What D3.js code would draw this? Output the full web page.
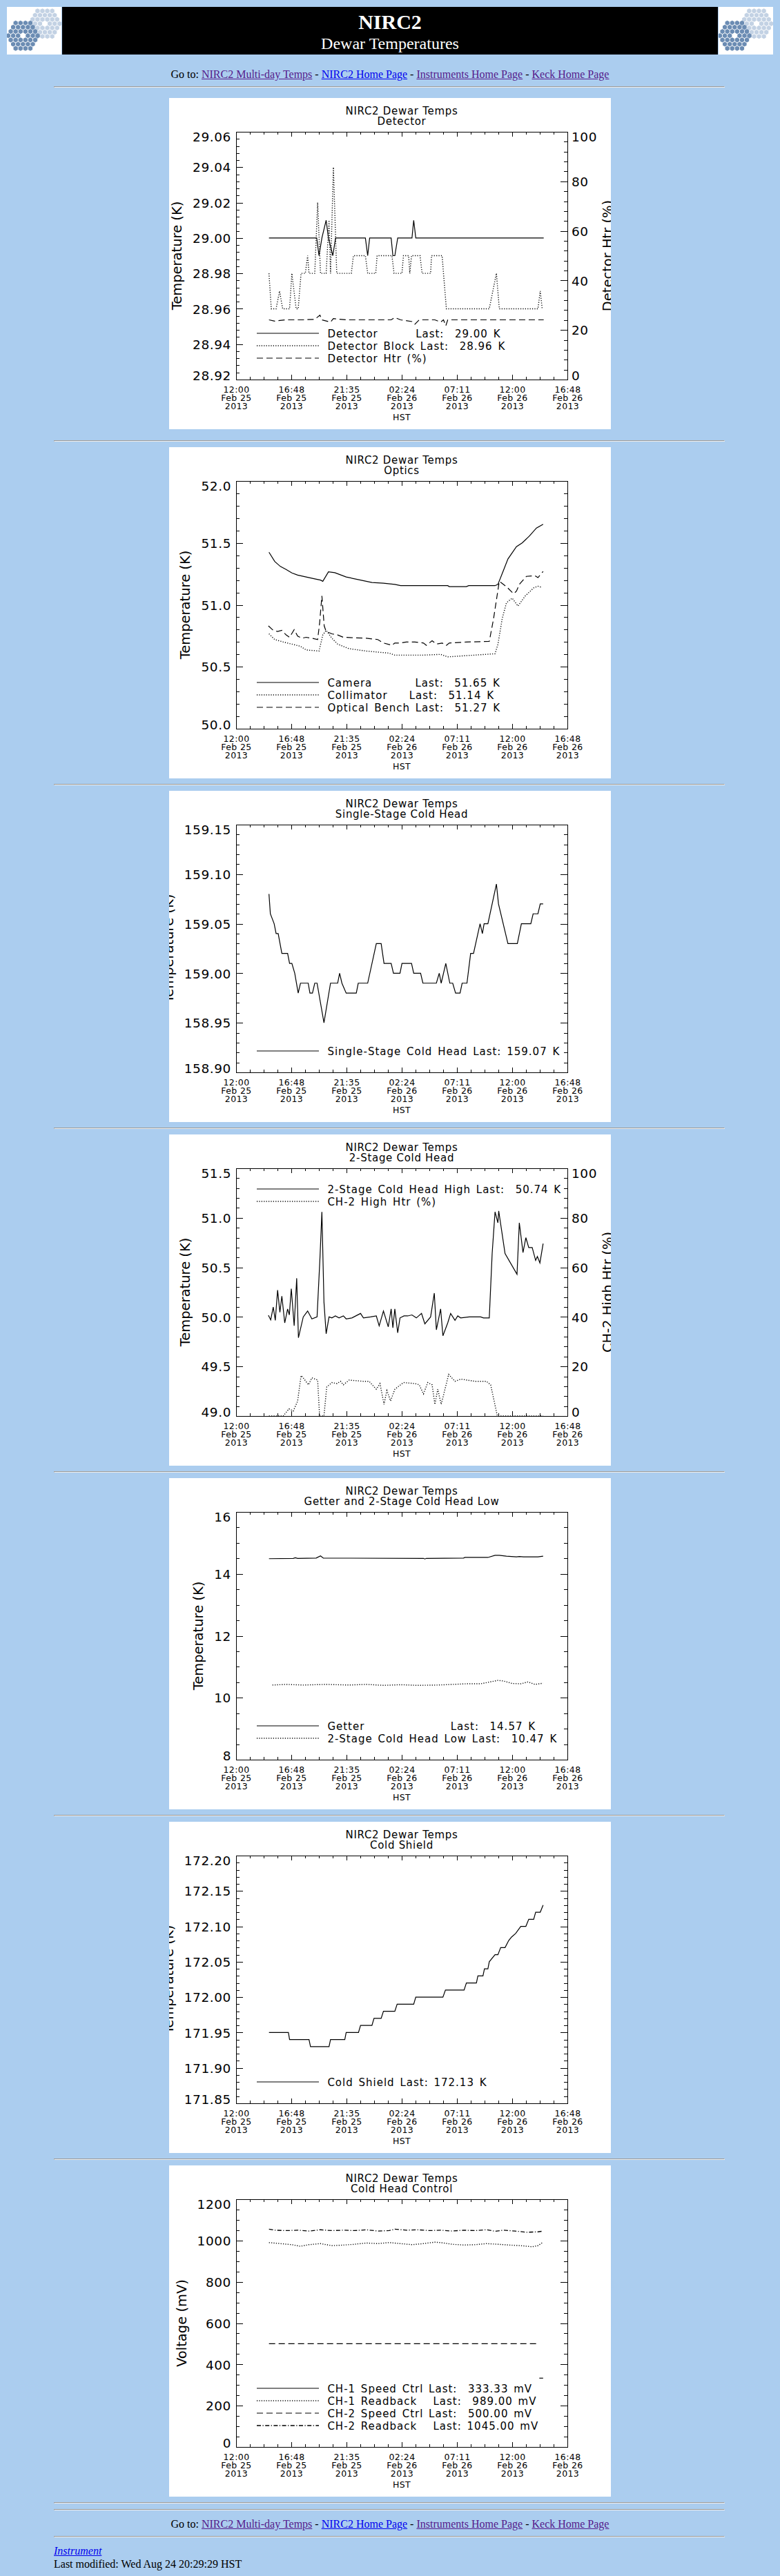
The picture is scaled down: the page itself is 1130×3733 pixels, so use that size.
<!DOCTYPE html>
<html>
<head>
<meta charset="utf-8">
<title>NIRC2 Dewar Temperatures</title>
<script src="https://cdn.jsdelivr.net/npm/d3@7"></script>
<style>
  body { margin: 0; background: #abcdef; width: 1130px; height: 3733px; position: relative; overflow: hidden;
         font-family: "Liberation Serif", "Times New Roman", serif; font-size: 16px; color: #000; }
  .abs { position: absolute; }
  hr.abs { margin: 0; width: 970px; left: 78px; }
  .nav { left: 0; width: 1130px; text-align: center; line-height: 18px; white-space: nowrap; }
  a { text-decoration: underline; }
  a.seen { color: #551a8b; }
  a.fresh { color: #0000ee; }
  .chart text { font-family: "DejaVu Sans", sans-serif; font-weight: normal; fill: #000; }
  .chart .ttl { font-size: 15px; letter-spacing: 0.7px; }
  .chart .ytl { font-size: 18.5px; letter-spacing: 0.6px; }
  .chart .xtl { font-size: 12.5px; letter-spacing: 0.4px; }
  .chart .atl { font-size: 19.5px; }
  .chart .leg { font-size: 15px; letter-spacing: 1px; word-spacing: 2px; white-space: pre; }
</style>
</head>
<body>
<script>
// ---- time axis (hours after 12:00 Feb 25 2013, HST) ----
const xTickHours = [0, 4.8, 9.6, 14.4, 19.2, 24, 28.8];
const xTickTimes = ["12:00", "16:48", "21:35", "02:24", "07:11", "12:00", "16:48"];
const xTickDates = ["Feb 25", "Feb 25", "Feb 25", "Feb 26", "Feb 26", "Feb 26", "Feb 26"];
const xTickYears = ["2013", "2013", "2013", "2013", "2013", "2013", "2013"];

// ---- Detector ----
const detTicks = [28.92, 28.94, 28.96, 28.98, 29.00, 29.02, 29.04, 29.06];
const htrTicks = [0, 20, 40, 60, 80, 100];
const detector = [[2.86,29.00],[7.01,29.00],[7.21,28.99],[7.46,29.00],[7.83,29.01],[8.03,29.00],[8.41,28.99],[8.65,29.00],
  [11.24,29.00],[11.44,28.99],[11.61,29.00],[13.48,29.00],[13.63,28.99],[13.80,28.99],[14.05,29.00],[15.29,29.00],
  [15.44,29.01],[15.62,29.00],[26.74,29.00]];
const detBlock = [[2.86,28.98],[3.06,28.96],[3.48,28.96],[3.78,28.97],[4.05,28.96],[4.65,28.96],[4.85,28.98],[5.22,28.96],
  [5.40,28.96],[5.65,28.98],[6.02,28.98],[6.22,28.99],[6.34,28.98],[6.84,28.98],[7.09,29.02],[7.34,28.98],[7.83,28.98],
  [8.08,29.01],[8.21,28.98],[8.46,29.04],[8.75,28.98],[10.02,28.98],[10.20,28.99],[11.24,28.99],[11.44,28.98],[12.14,28.98],
  [12.26,28.99],[13.55,28.99],[13.73,28.98],[14.42,28.98],[14.55,28.99],[15.00,28.99],[15.10,28.98],[15.25,28.99],
  [15.99,28.99],[16.17,28.98],[16.91,28.98],[16.99,28.99],[17.91,28.99],[18.03,28.98],[18.28,28.96],[22.01,28.96],
  [22.63,28.98],[22.88,28.96],[26.24,28.96],[26.44,28.97],[26.61,28.96]];
const detHtr = [[2.86,24.1],[3.36,23.6],[4.35,24.1],[5.84,24.1],[6.84,24.3],[7.29,26.0],[7.46,24.1],[8.21,23.2],[8.46,24.6],
  [9.57,24.1],[13.48,24.1],[13.80,25.0],[14.30,24.1],[15.29,23.4],[15.54,22.3],[15.92,24.1],[17.28,24.1],[17.78,23.2],
  [18.03,24.1],[18.23,21.7],[18.40,24.1],[26.74,24.1]];
const detLegend = ["Detector       Last:  29.00 K", "Detector Block Last:  28.96 K", "Detector Htr (%)"];

// ---- Optics ----
const optTicks = [50.0, 50.5, 51.0, 51.5, 52.0];
const camera = [[2.86,51.425],[3.36,51.35],[3.85,51.31],[4.35,51.286],[4.85,51.258],[5.35,51.24],[6.09,51.225],[6.84,51.21],
  [7.34,51.20],[7.54,51.19],[8.03,51.267],[8.58,51.26],[9.57,51.225],[10.82,51.20],[11.81,51.18],[12.81,51.175],
  [13.80,51.165],[14.30,51.155],[16.29,51.155],[18.40,51.155],[18.53,51.147],[20.02,51.147],[20.22,51.155],[22.51,51.155],
  [22.76,51.165],[23.25,51.28],[23.63,51.37],[24.37,51.47],[24.87,51.50],[25.49,51.555],[26.11,51.62],[26.69,51.65]];
const collimator = [[2.86,50.766],[3.36,50.72],[4.10,50.70],[4.85,50.683],[5.60,50.665],[6.09,50.636],[7.21,50.627],
  [7.54,50.757],[7.83,50.794],[8.33,50.73],[8.83,50.683],[9.82,50.646],[11.32,50.627],[13.31,50.61],[13.80,50.594],
  [16.29,50.594],[17.78,50.60],[18.40,50.58],[20.02,50.59],[22.51,50.605],[22.76,50.68],[23.13,50.887],[23.50,51.017],
  [24.00,51.054],[24.50,50.99],[25.12,51.07],[25.87,51.137],[26.24,51.15],[26.61,51.14]];
const opticalBench = [[2.81,50.83],[3.23,50.794],[3.61,50.785],[3.98,50.794],[4.35,50.757],[4.65,50.738],[5.05,50.80],
  [5.35,50.748],[5.72,50.73],[6.09,50.738],[6.59,50.73],[7.09,50.72],[7.26,50.85],[7.46,51.072],[7.66,50.83],[7.83,50.785],
  [8.33,50.766],[8.83,50.757],[9.33,50.738],[11.32,50.73],[12.31,50.72],[12.81,50.692],[13.55,50.673],[13.80,50.692],
  [14.30,50.692],[14.79,50.70],[15.54,50.70],[16.29,50.692],[16.54,50.673],[17.04,50.71],[17.41,50.683],[17.91,50.692],
  [18.28,50.673],[18.53,50.692],[20.02,50.70],[22.01,50.705],[22.38,50.887],[22.88,51.19],[23.50,51.147],[24.12,51.09],
  [24.37,51.11],[24.62,51.165],[25.24,51.23],[25.99,51.235],[26.24,51.22],[26.69,51.27]];
const optLegend = ["Camera        Last:  51.65 K", "Collimator    Last:  51.14 K", "Optical Bench Last:  51.27 K"];

// ---- Single-stage cold head ----
const ssTicks = [158.90, 158.95, 159.00, 159.05, 159.10, 159.15];
const singleStage = [[2.86,159.08],[2.98,159.06],[3.31,159.05],[3.48,159.04],[3.66,159.04],[3.98,159.02],[4.48,159.02],
  [4.65,159.01],[4.85,159.01],[5.10,159.00],[5.40,158.98],[5.60,158.99],[6.27,158.99],[6.42,158.98],[6.64,158.98],
  [6.84,158.99],[7.04,158.99],[7.64,158.95],[8.21,158.99],[8.83,158.99],[9.00,159.00],[9.20,158.99],[9.57,158.98],
  [10.45,158.98],[10.62,158.99],[11.44,158.99],[12.19,159.03],[12.61,159.03],[12.86,159.01],[13.48,159.01],[13.68,159.00],
  [14.25,159.00],[14.42,159.01],[15.25,159.01],[15.44,159.00],[16.04,159.00],[16.24,158.99],[17.41,158.99],[17.66,159.00],
  [17.83,158.99],[18.23,159.01],[18.58,158.99],[18.83,158.99],[19.08,158.98],[19.47,158.98],[19.65,158.99],[20.07,158.99],
  [20.39,159.02],[20.64,159.02],[21.02,159.04],[21.21,159.05],[21.41,159.04],[21.56,159.05],[21.89,159.05],[22.63,159.09],
  [22.81,159.07],[23.63,159.03],[24.45,159.03],[24.80,159.05],[25.62,159.05],[25.82,159.06],[26.24,159.06],[26.44,159.07],
  [26.69,159.07]];
const ssLegend = ["Single-Stage Cold Head Last: 159.07 K"];

// ---- 2-stage cold head ----
const tsTicks = [49.0, 49.5, 50.0, 50.5, 51.0, 51.5];
const twoStageHigh = [[2.81,50.016],[3.01,49.97],[3.23,50.10],[3.41,49.965],[3.61,50.27],[3.81,50.046],[3.98,50.21],
  [4.23,49.94],[4.48,50.08],[4.63,50.02],[4.80,50.285],[5.05,49.91],[5.27,50.39],[5.42,49.79],[5.84,50.00],[6.22,50.06],
  [6.59,49.98],[7.04,50.00],[7.29,50.59],[7.46,51.06],[7.64,50.15],[7.83,49.83],[8.08,50.00],[8.33,49.99],[8.63,50.01],
  [8.95,49.99],[9.33,50.01],[9.57,49.98],[10.07,49.99],[10.82,50.035],[11.07,49.99],[11.69,50.00],[12.19,50.01],
  [12.44,49.91],[12.81,50.06],[13.23,49.90],[13.48,50.08],[13.63,49.89],[13.80,50.08],[14.05,49.84],[14.25,49.99],
  [14.60,50.01],[14.92,50.01],[15.29,50.02],[15.67,49.99],[16.12,50.035],[16.41,49.93],[16.91,50.00],[17.23,50.24],
  [17.41,49.87],[17.78,50.08],[17.98,49.81],[18.40,49.94],[18.65,50.035],[19.03,49.965],[19.27,50.01],[19.52,49.99],
  [20.27,50.00],[21.26,50.00],[21.51,49.99],[22.01,49.99],[22.26,50.64],[22.51,51.06],[22.76,50.95],[22.83,51.07],
  [23.38,50.64],[24.42,50.43],[24.62,50.95],[24.94,50.65],[25.19,50.80],[25.44,50.70],[25.74,50.70],[26.04,50.57],
  [26.19,50.61],[26.41,50.545],[26.69,50.74]];
const ch2Htr = [[2.86,0],[4.10,0],[4.60,2.9],[4.97,2.0],[5.35,6.0],[5.65,16.3],[5.84,15.4],[6.29,12.6],[6.59,15.4],
  [7.09,14.5],[7.26,0],[7.64,0],[7.88,11.7],[8.33,13.5],[8.78,13.1],[9.08,14.0],[9.33,12.6],[9.82,14.5],[11.07,14.0],
  [11.56,14.0],[12.19,10.8],[12.51,13.1],[12.86,4.7],[13.11,10.3],[13.43,6.1],[13.80,10.8],[14.55,13.5],[15.54,13.1],
  [15.92,12.6],[16.29,8.9],[16.66,13.5],[17.04,12.6],[17.28,4.7],[17.53,10.8],[17.83,4.7],[18.48,16.8],[19.03,14.0],
  [19.52,14.9],[20.77,14.0],[21.76,14.0],[22.13,12.6],[22.71,0],[26.69,0]];
const tsLegend = ["2-Stage Cold Head High Last:  50.74 K", "CH-2 High Htr (%)"];

// ---- Getter and 2-stage low ----
const getTicks = [8, 10, 12, 14, 16];
const getter = [[2.86,14.49],[4.97,14.50],[5.15,14.52],[5.35,14.50],[6.96,14.51],[7.34,14.58],[7.59,14.51],[16.29,14.50],
  [16.41,14.48],[16.54,14.50],[19.77,14.51],[19.90,14.53],[21.89,14.53],[22.51,14.60],[22.88,14.60],[23.50,14.57],
  [24.37,14.55],[24.62,14.56],[24.99,14.55],[26.24,14.55],[26.69,14.57]];
const twoStageLow = [[3.16,10.41],[4.35,10.43],[5.84,10.41],[7.83,10.43],[9.82,10.41],[11.32,10.43],[12.81,10.40],
  [14.30,10.42],[15.79,10.40],[17.53,10.41],[18.78,10.43],[20.02,10.45],[21.26,10.45],[22.76,10.56],[23.25,10.54],
  [24.00,10.46],[24.75,10.45],[25.37,10.51],[25.99,10.43],[26.69,10.47]];
const getLegend = ["Getter                Last:  14.57 K", "2-Stage Cold Head Low Last:  10.47 K"];

// ---- Cold shield ----
const csTicks = [171.85, 171.90, 171.95, 172.00, 172.05, 172.10, 172.15, 172.20];
const coldShield = [[2.86,171.95],[4.55,171.95],[4.65,171.94],[6.34,171.94],[6.47,171.93],[8.08,171.93],[8.21,171.94],
  [9.45,171.94],[9.57,171.95],[10.64,171.95],[10.82,171.96],[11.81,171.96],[11.99,171.97],[12.61,171.97],[12.81,171.98],
  [13.80,171.98],[14.00,171.99],[15.44,171.99],[15.62,172.00],[17.98,172.00],[18.20,172.01],[19.82,172.01],[20.02,172.02],
  [20.89,172.02],[21.02,172.03],[21.46,172.03],[21.59,172.04],[21.89,172.04],[22.01,172.05],[22.51,172.06],[22.76,172.06],
  [23.00,172.07],[23.38,172.07],[23.70,172.08],[23.95,172.085],[24.30,172.09],[24.75,172.10],[25.19,172.10],
  [25.44,172.11],[25.87,172.11],[26.04,172.12],[26.44,172.12],[26.69,172.13]];
const csLegend = ["Cold Shield Last: 172.13 K"];

// ---- Cold head control ----
const mvTicks = [0, 200, 400, 600, 800, 1000, 1200];
const ch1Speed = [[26.36,333.33],[26.69,333.33]];
const ch1Read = [[2.86,990],[3.85,985],[4.85,980],[5.60,972],[6.34,980],[7.34,985],[8.33,975],[9.33,978],[10.32,982],
  [11.32,988],[12.31,985],[13.31,990],[14.30,985],[15.29,980],[16.29,985],[17.28,992],[17.78,990],[18.78,982],[19.77,978],
  [20.77,980],[21.76,985],[22.76,982],[23.75,978],[24.75,975],[25.74,970],[26.24,975],[26.61,989]];
const ch2Speed = [[2.86,500],[26.36,500]];
const ch2Read = [[2.86,1055],[3.36,1050],[4.35,1048],[5.35,1050],[6.34,1046],[7.34,1052],[8.33,1048],[9.33,1050],
  [10.32,1048],[11.32,1052],[12.31,1046],[13.31,1048],[13.80,1055],[14.79,1050],[15.79,1052],[16.79,1048],[17.78,1050],
  [18.78,1046],[19.77,1050],[20.77,1048],[21.76,1052],[22.51,1045],[23.25,1050],[24.25,1046],[25.24,1040],[26.24,1042],
  [26.61,1045]];
const mvLegend = ["CH-1 Speed Ctrl Last:  333.33 mV", "CH-1 Readback   Last:  989.00 mV",
                  "CH-2 Speed Ctrl Last:  500.00 mV", "CH-2 Readback   Last: 1045.00 mV"];

// ---- page text ----
const navLinks = ["NIRC2 Multi-day Temps", "NIRC2 Home Page", "Instruments Home Page", "Keck Home Page"];
const navSeen = [true, false, true, true];

const charts = [
  { sub: "Detector", ticks: detTicks, minor: 0.004, fmt: ".2f", title: "Temperature (K)",
    right: { ticks: htrTicks, minor: 4, title: "Detector Htr (%)" },
    series: [[detector, "solid"], [detBlock, "dot"], [detHtr, "dash", true]], legend: detLegend },
  { sub: "Optics", ticks: optTicks, minor: 0.1, fmt: ".1f", title: "Temperature (K)",
    series: [[camera, "solid"], [collimator, "dot"], [opticalBench, "dash"]], legend: optLegend },
  { sub: "Single-Stage Cold Head", ticks: ssTicks, minor: 0.01, fmt: ".2f", title: "Temperature (K)",
    series: [[singleStage, "solid"]], legend: ssLegend },
  { sub: "2-Stage Cold Head", ticks: tsTicks, minor: 0.1, fmt: ".1f", title: "Temperature (K)",
    right: { ticks: htrTicks, minor: 4, title: "CH-2 High Htr (%)" },
    series: [[twoStageHigh, "solid"], [ch2Htr, "dot", true]], legend: tsLegend, legendTop: true },
  { sub: "Getter and 2-Stage Cold Head Low", ticks: getTicks, minor: 0.5, fmt: "d", title: "Temperature (K)",
    series: [[getter, "solid"], [twoStageLow, "dot"]], legend: getLegend },
  { sub: "Cold Shield", ticks: csTicks, minor: 0.01, fmt: ".2f", title: "Temperature (K)",
    series: [[coldShield, "solid"]], legend: csLegend },
  { sub: "Cold Head Control", ticks: mvTicks, minor: 50, fmt: "d", title: "Voltage (mV)",
    series: [[ch1Speed, "solid"], [ch1Read, "dot"], [ch2Speed, "dash"], [ch2Read, "dashdot"]], legend: mvLegend }
];

const dashes = { solid: null, dot: "1.2,2.2", dash: "9,5", dashdot: "6,2.5,1.2,2.5" };
const widths = { solid: 1.2, dot: 1.4, dash: 1.2, dashdot: 1.3 };

const page = d3.select("body");

// keck logo: two hexagonal mirrors of 36 segments
function drawLogo(svg) {
  svg.append("rect").attr("width", 79).attr("height", 69).attr("fill", "#fff");
  const size = 4.1, hexR = 3.6;
  const hex = d3.range(6).map(k => {
    const a = (Math.PI / 180) * (60 * k - 30);
    return [hexR * Math.cos(a), hexR * Math.sin(a)];
  });
  const cells = [];
  for (let q = -3; q <= 3; q++) for (let r = -3; r <= 3; r++) {
    const s = -q - r;
    const ring = Math.max(Math.abs(q), Math.abs(r), Math.abs(s));
    if (ring >= 1 && ring <= 3) cells.push([size * Math.sqrt(3) * (q + r / 2), size * 1.5 * r]);
  }
  [[55, 24.3, "#c3d2e4"], [23.3, 41.7, "#6b8cb3"]].forEach(([cx, cy, col]) => {
    svg.append("g").selectAll("path").data(cells).enter().append("path")
      .attr("d", d => "M" + hex.map(p => [p[0] + cx + d[0], p[1] + cy + d[1]].join(",")).join("L") + "Z")
      .attr("fill", col);
  });
}

// header band
const head = page.append("div").attr("class", "abs").style("left", "10px").style("top", "10px")
  .style("width", "1110px").style("height", "69px");
[0, 1031].forEach(left => {
  drawLogo(head.append("svg").attr("class", "abs").style("left", left + "px").style("top", "0px")
    .attr("width", 79).attr("height", 69));
});
const band = head.append("div").attr("class", "abs").style("left", "80px").style("top", "0px")
  .style("width", "950px").style("height", "69px").style("background", "#000").style("color", "#fff")
  .style("text-align", "center");
band.append("div").attr("class", "abs").style("left", "0px").style("width", "950px").style("top", "5px")
  .style("line-height", "34px").style("font-size", "30px").style("font-weight", "bold").text("NIRC2");
band.append("div").attr("class", "abs").style("left", "0px").style("width", "950px").style("top", "39px")
  .style("line-height", "28px").style("font-size", "24px").text("Dewar Temperatures");

function navLine(top) {
  const d = page.append("div").attr("class", "abs nav").style("top", top + "px");
  d.append("span").text("Go to: ");
  navLinks.forEach((t, i) => {
    if (i > 0) d.append("span").text(" - ");
    d.append("a").attr("href", "#").attr("class", navSeen[i] ? "seen" : "fresh").text(t);
  });
}
function rule(top) { page.append("hr").attr("class", "abs").style("top", top + "px"); }

navLine(99);
rule(125);

function drawChart(c, top) {
  const W = 640, H = 480, L = 97, R = 577, T = 49, B = 408;
  const svg = page.append("svg").attr("class", "abs chart").style("left", "245px").style("top", top + "px")
    .attr("width", W).attr("height", H);
  svg.append("rect").attr("width", W).attr("height", H).attr("fill", "#fff");

  const x = d3.scaleLinear().domain([xTickHours[0], xTickHours[xTickHours.length - 1]]).range([L, R]);
  const y = d3.scaleLinear().domain([c.ticks[0], c.ticks[c.ticks.length - 1]]).range([B, T]);
  const y2 = c.right ? d3.scaleLinear().domain([c.right.ticks[0], c.right.ticks[c.right.ticks.length - 1]]).range([B, T]) : null;

  svg.append("text").attr("class", "ttl").attr("x", (L + R) / 2).attr("y", 24.2).attr("text-anchor", "middle").text("NIRC2 Dewar Temps");
  svg.append("text").attr("class", "ttl").attr("x", (L + R) / 2).attr("y", 39.2).attr("text-anchor", "middle").text(c.sub);

  const minorOf = (dom, step) => d3.range(dom[0], dom[1] + step / 2, step);
  const xMinor = minorOf(x.domain(), 1.2);

  // x axes (bottom with labels, top ticks only)
  svg.append("g").attr("transform", `translate(0,${B})`)
    .call(d3.axisBottom(x).tickValues(xMinor).tickSize(-3.6).tickSizeOuter(0).tickFormat(""));
  const gx = svg.append("g").attr("class", "xtl").attr("transform", `translate(0,${B})`)
    .call(d3.axisBottom(x).tickValues(xTickHours).tickSize(-7.2).tickSizeOuter(0).tickFormat((d, i) => xTickTimes[i]));
  gx.selectAll(".tick text").attr("y", null).attr("dy", null).each(function (d, i) {
    const t = d3.select(this).text(null);
    [xTickTimes[i], xTickDates[i], xTickYears[i]].forEach((s, j) =>
      t.append("tspan").attr("x", 0).attr("y", 19.3 + j * 11.7).text(s));
  });
  svg.append("g").attr("transform", `translate(0,${T})`)
    .call(d3.axisTop(x).tickValues(xMinor).tickSize(-3.6).tickSizeOuter(0).tickFormat(""));
  svg.append("g").attr("transform", `translate(0,${T})`)
    .call(d3.axisTop(x).tickValues(xTickHours).tickSize(-7.2).tickSizeOuter(0).tickFormat(""));
  svg.append("text").attr("class", "xtl").attr("x", (L + R) / 2).attr("y", 467.3).attr("text-anchor", "middle").text("HST");

  // left axis
  svg.append("g").attr("transform", `translate(${L},0)`)
    .call(d3.axisLeft(y).tickValues(minorOf(y.domain(), c.minor)).tickSize(-4.8).tickSizeOuter(0).tickFormat(""));
  const gy = svg.append("g").attr("class", "ytl").attr("transform", `translate(${L},0)`)
    .call(d3.axisLeft(y).tickValues(c.ticks).tickSize(-9.6).tickPadding(7).tickSizeOuter(0).tickFormat(d3.format(c.fmt)));
  const nT = c.ticks.length;
  gy.selectAll(".tick text").attr("dy", "0.36em").attr("y", (d, i) => i === 0 ? -6 : i === nT - 1 ? 6.5 : 0);

  // right axis
  if (c.right) {
    svg.append("g").attr("transform", `translate(${R},0)`)
      .call(d3.axisRight(y2).tickValues(minorOf(y2.domain(), c.right.minor)).tickSize(-4.8).tickSizeOuter(0).tickFormat(""));
    const gr = svg.append("g").attr("class", "ytl").attr("transform", `translate(${R},0)`)
      .call(d3.axisRight(y2).tickValues(c.right.ticks).tickSize(-9.6).tickPadding(6).tickSizeOuter(0).tickFormat(d3.format("d")));
    const nR = c.right.ticks.length;
    gr.selectAll(".tick text").attr("dy", "0.36em").attr("y", (d, i) => i === 0 ? -6 : i === nR - 1 ? 6.5 : 0);
    svg.append("text").attr("class", "atl").attr("text-anchor", "middle")
      .attr("transform", `translate(642,${(T + B) / 2}) rotate(-90)`).text(c.right.title);
  } else {
    svg.append("g").attr("transform", `translate(${R},0)`)
      .call(d3.axisRight(y).tickValues(minorOf(y.domain(), c.minor)).tickSize(-4.8).tickSizeOuter(0).tickFormat(""));
    svg.append("g").attr("transform", `translate(${R},0)`)
      .call(d3.axisRight(y).tickValues(c.ticks).tickSize(-9.6).tickSizeOuter(0).tickFormat(""));
  }

  const lb = gy.node().getBBox();
  svg.append("text").attr("class", "atl").attr("text-anchor", "middle")
    .attr("transform", `translate(${L + lb.x - 16},${(T + B) / 2}) rotate(-90)`).text(c.title);

  svg.selectAll(".domain, .tick line").attr("stroke", "#000").attr("shape-rendering", "crispEdges");

  // data
  c.series.forEach(([data, style, onRight]) => {
    const ys = onRight ? y2 : y;
    svg.append("path").datum(data)
      .attr("d", d3.line().x(d => x(d[0])).y(d => ys(d[1])))
      .attr("fill", "none").attr("stroke", "#000").attr("stroke-width", widths[style])
      .attr("stroke-dasharray", dashes[style]);
  });

  // legend
  const n = c.legend.length;
  const rowY = k => c.legendTop ? 79 + 18 * k : 377 - 18 * (n - 1 - k);
  c.legend.forEach((txt, k) => {
    const style = c.series[k][1];
    svg.append("line").attr("x1", 127).attr("x2", 217).attr("y1", rowY(k)).attr("y2", rowY(k))
      .attr("stroke", "#000").attr("stroke-width", widths[style]).attr("stroke-dasharray", dashes[style]);
    svg.append("text").attr("class", "leg").attr("xml:space", "preserve")
      .attr("x", 229.4).attr("y", rowY(k) + 5.5).text(txt);
  });
}

charts.forEach((c, i) => {
  const top = i === 0 ? 142 : 648 + 498 * (i - 1);
  drawChart(c, top);
  rule(i === 0 ? 638 : top + 488);
});

rule(3636);
navLine(3649);
rule(3675);
page.append("div").attr("class", "abs").style("left", "78px").style("top", "3688px").style("line-height", "18px")
  .style("font-style", "italic").append("a").attr("href", "#").attr("class", "fresh").text("Instrument");
page.append("div").attr("class", "abs").style("left", "78px").style("top", "3707px").style("line-height", "18px")
  .text("Last modified: Wed Aug 24 20:29:29 HST");
</script>
</body>
</html>
